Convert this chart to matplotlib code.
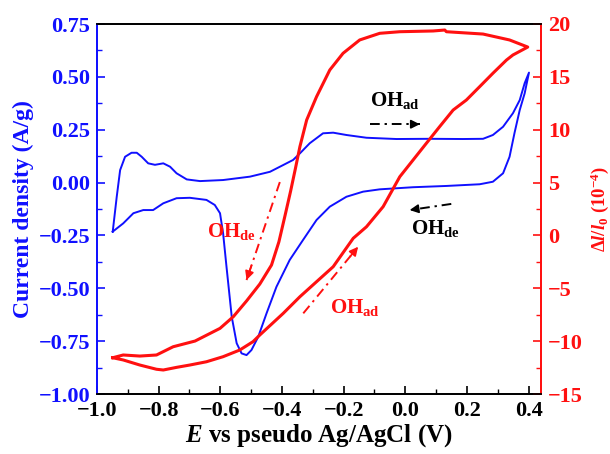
import numpy as np
import matplotlib
matplotlib.use("Agg")
import matplotlib.pyplot as plt
from matplotlib.ticker import MultipleLocator

# ---------------- data ----------------
# Blue CV curve (current density, A/g) vs potential (V)
blue_x = [-0.949, -0.936, -0.925, -0.909, -0.888, -0.871, -0.855, -0.834, -0.812, -0.785,
          -0.763, -0.742, -0.709, -0.666, -0.591, -0.504, -0.439, -0.396, -0.364, -0.342,
          -0.310, -0.267, -0.234, -0.191, -0.126, -0.029, 0.079, 0.187, 0.252, 0.284,
          0.317, 0.349, 0.371, 0.387, 0.401,
          0.387, 0.371, 0.354, 0.338, 0.317, 0.284, 0.241, 0.133, 0.025, -0.083,
          -0.137, -0.191, -0.245, -0.288, -0.332, -0.375, -0.418, -0.450, -0.477, -0.499,
          -0.515, -0.531, -0.547, -0.563, -0.580, -0.591, -0.601, -0.618, -0.645, -0.699,
          -0.742, -0.785, -0.818, -0.850, -0.882, -0.915, -0.949]
blue_y = [-0.232, -0.067, 0.059, 0.122, 0.141, 0.141, 0.122, 0.091, 0.084, 0.091,
          0.075, 0.044, 0.015, 0.007, 0.012, 0.028, 0.051, 0.083, 0.107, 0.138,
          0.186, 0.233, 0.236, 0.225, 0.212, 0.206, 0.207, 0.206, 0.207, 0.225,
          0.264, 0.328, 0.390, 0.470, 0.520,
          0.422, 0.343, 0.234, 0.122, 0.044, 0.004, -0.008, -0.016, -0.022, -0.032,
          -0.043, -0.067, -0.114, -0.177, -0.272, -0.366, -0.493, -0.618, -0.729, -0.792,
          -0.816, -0.808, -0.760, -0.635, -0.398, -0.240, -0.145, -0.106, -0.082, -0.072,
          -0.074, -0.098, -0.130, -0.130, -0.145, -0.193, -0.232]

# Red strain curve (Δl/l0, 1e-4) vs potential (V)
red_x = [-0.949, -0.915, -0.861, -0.807, -0.785, -0.742, -0.699, -0.645, -0.591, -0.537,
         -0.494, -0.472, -0.396, -0.342, -0.234, -0.169, -0.126, -0.072, -0.018, 0.025,
         0.068, 0.111, 0.155, 0.198, 0.241, 0.284, 0.328, 0.349, 0.397,
         0.338, 0.252, 0.133, 0.128, 0.090, -0.018, -0.083, -0.148, -0.202, -0.245,
         -0.288, -0.320, -0.342, -0.356, -0.372, -0.390, -0.410, -0.434, -0.472, -0.515,
         -0.558, -0.601, -0.682, -0.753, -0.807, -0.861, -0.915, -0.949]
red_y = [-11.57, -11.78, -12.26, -12.66, -12.73, -12.48, -12.26, -11.95, -11.47, -10.84,
         -10.05, -9.42, -7.37, -5.80, -2.96, -0.27, 0.82, 2.72, 5.55, 7.13,
         8.71, 10.28, 11.86, 12.81, 14.07, 15.34, 16.59, 17.07, 17.82,
         18.49, 19.05, 19.27, 19.43, 19.34, 19.27, 19.12, 18.49, 17.23, 15.65,
         13.12, 10.92, 8.39, 6.40, 4.20, 1.90, -0.60, -2.80, -4.60, -6.20,
         -7.69, -8.79, -9.99, -10.53, -11.31, -11.41, -11.31, -11.57]

x_ticks = [-1.0, -0.8, -0.6, -0.4, -0.2, 0.0, 0.2, 0.4]
left_ticks = [-1.00, -0.75, -0.50, -0.25, 0.00, 0.25, 0.50, 0.75]
right_ticks = [-15, -10, -5, 0, 5, 10, 15, 20]

# ---------------- style ----------------
plt.rcParams['font.family'] = ['Liberation Serif', 'DejaVu Serif']
plt.rcParams['font.weight'] = 'bold'
plt.rcParams['axes.labelweight'] = 'bold'
plt.rcParams['mathtext.fontset'] = 'custom'
plt.rcParams['mathtext.rm'] = 'Liberation Serif:bold'
plt.rcParams['mathtext.bf'] = 'Liberation Serif:bold'
plt.rcParams['mathtext.it'] = 'Liberation Serif:italic:bold'

BLUE = '#1010ff'
RED = '#ff1010'

fig = plt.figure(figsize=(6.10, 4.54), dpi=100)
ax = fig.add_axes([97/610, 60/454, 444/610, 370/454])
ax2 = ax.twinx()

ax.plot(blue_x, blue_y, color=BLUE, lw=1.4)
ax2.plot(red_x, red_y, color=RED, lw=2.2)

ax.set_xlim(-1.0, 0.44)
ax.set_ylim(-1.0, 0.75)
ax2.set_ylim(-15, 20)
ax.set_xticks(x_ticks)
ax.set_yticks(left_ticks)
ax2.set_yticks(right_ticks)
ax.xaxis.set_minor_locator(MultipleLocator(0.1))
ax.yaxis.set_minor_locator(MultipleLocator(0.125))
ax2.yaxis.set_minor_locator(MultipleLocator(2.5))

fs_tick = 16
ax.tick_params(axis='x', which='both', direction='in', top=False, colors='black',
               labelsize=fs_tick, pad=5)
ax.tick_params(axis='y', which='both', direction='in', left=True, right=False,
               colors=BLUE, labelsize=fs_tick, pad=5)
ax2.tick_params(axis='y', which='both', direction='in', right=True, left=False,
                colors=RED, labelsize=fs_tick, pad=5)
for a in (ax, ax2):
    a.tick_params(which='major', length=6, width=1.2)
    a.tick_params(which='minor', length=3.5, width=1.0)
    a.spines['left'].set_color(BLUE)
    a.spines['right'].set_color(RED)
    a.spines['top'].set_color('black')
    a.spines['bottom'].set_color('black')
    for s in a.spines.values():
        s.set_linewidth(1.3)
ax.tick_params(axis='x', which='both', top=False)

ax.set_xlabel(r'$\mathit{E}$ vs pseudo Ag/AgCl (V)', fontsize=18, fontweight='bold', labelpad=1)
ax.set_ylabel('Current density (A/g)', fontsize=17, fontweight='bold', color=BLUE, labelpad=3)
ax2.set_ylabel(r'$\mathit{\Delta l/l}_{0}$ (10$^{-4}$)', fontsize=13.5, fontweight='bold',
               color=RED, labelpad=4)

# ---------------- annotations ----------------
fs_ann = 15
ax.text(-0.034, 0.386, r'OH$_{\mathrm{ad}}$', color='black', fontsize=fs_ann, ha='center', va='center')
ax.text(0.0985, -0.215, r'OH$_{\mathrm{de}}$', color='black', fontsize=fs_ann, ha='center', va='center')
ax.text(-0.5635, -0.2325, r'OH$_{\mathrm{de}}$', color=RED, fontsize=fs_ann, ha='center', va='center')
ax.text(-0.164, -0.593, r'OH$_{\mathrm{ad}}$', color=RED, fontsize=fs_ann, ha='center', va='center')


def dash_arrow(tail, head, color):
    t = np.array(tail)
    h = np.array(head)
    ax.plot([t[0], h[0]], [t[1], h[1]], color=color, lw=1.4,
            linestyle=(0, (5, 2.5, 1.2, 2.5)), zorder=4)
    d = h - t
    ax.annotate('', xy=tuple(h), xytext=tuple(h - 0.15 * d),
                arrowprops=dict(arrowstyle='-|>', color=color, lw=1.2,
                                mutation_scale=13, shrinkA=0, shrinkB=0), zorder=4)


dash_arrow((-0.115, 0.276), (0.047, 0.276), 'black')
dash_arrow((0.149, -0.101), (0.014, -0.130), 'black')
dash_arrow((-0.407, 0.0025), (-0.515, -0.461), RED)
dash_arrow((-0.331, -0.6185), (-0.153, -0.3035), RED)

fig.savefig('out.png', dpi=100)
